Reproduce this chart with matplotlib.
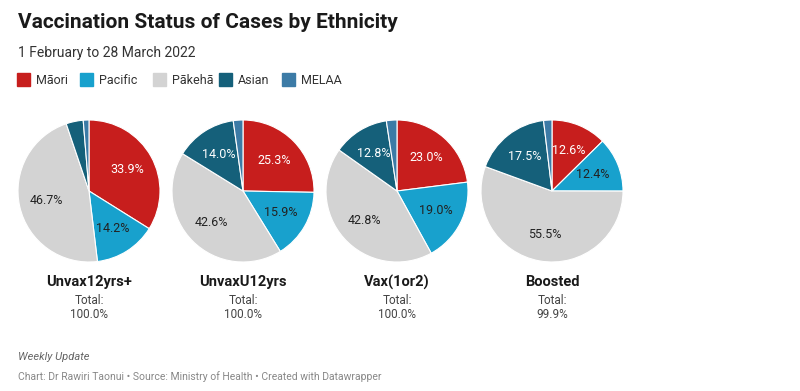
import numpy as np
import matplotlib.pyplot as plt

plt.rcParams['font.family'] = ['Roboto', 'DejaVu Sans']

groups = ['Unvax12yrs+', 'UnvaxU12yrs', 'Vax(1or2)', 'Boosted']
totals = ['100.0%', '100.0%', '100.0%', '99.9%']
ethnicities = ['Māori', 'Pacific', 'Pākehā', 'Asian', 'MELAA']
maori = [33.9, 25.3, 23.0, 12.6]
pacific = [14.2, 15.9, 19.0, 12.4]
pakeha = [46.7, 42.6, 42.8, 55.5]
asian = [3.9, 14.0, 12.8, 17.5]
melaa = [1.3, 2.2, 2.4, 1.9]

colors = ['#c71e1d', '#18a1cd', '#d3d3d3', '#15607a', '#3c7ba6']
label_colors = ['white', '#222222', '#222222', 'white', 'white']

W, H = 800, 391
fig = plt.figure(figsize=(W / 100, H / 100), dpi=100)
fig.patch.set_facecolor('white')

def fx(px):
    return px / W

def fy(py):
    return 1 - py / H

fig.text(fx(18), fy(22), 'Vaccination Status of Cases by Ethnicity', fontsize=15,
         fontweight='bold', color='#1a1a1a', va='center')
fig.text(fx(18), fy(53), '1 February to 28 March 2022', fontsize=10,
         color='#333333', va='center')

# legend
legend_x = [17, 80, 153, 219, 282]
for name, c, lx in zip(ethnicities, colors, legend_x):
    fig.patches.append(plt.Rectangle((fx(lx), fy(86)), fx(13), 13 / H,
                                     transform=fig.transFigure, color=c))
    fig.text(fx(lx + 19), fy(80), name, fontsize=9, color='#333333', va='center')

centers = [89, 243, 397, 552]
r = 71
for i, g in enumerate(groups):
    vals = [maori[i], pacific[i], pakeha[i], asian[i], melaa[i]]
    ax = fig.add_axes([fx(centers[i] - r), fy(191 + r), 2 * r / W, 2 * r / H])
    ax.pie(vals, colors=colors, startangle=90, counterclock=False,
           wedgeprops=dict(edgecolor='white', linewidth=0.8))
    ax.set_xlim(-1, 1)
    ax.set_ylim(-1, 1)
    ax.set_aspect('equal')
    total = sum(vals)
    start = 90
    for v, lc in zip(vals, label_colors):
        mid = start - v / total * 360 / 2
        start -= v / total * 360
        if v >= 10:
            a = np.deg2rad(mid)
            ax.text(0.62 * np.cos(a), 0.62 * np.sin(a), f'{v:.1f}%', ha='center',
                    va='center', fontsize=9, color=lc)
    fig.text(fx(centers[i]), fy(282), g, ha='center', va='center', fontsize=10.5,
             fontweight='bold', color='#1a1a1a')
    fig.text(fx(centers[i]), fy(300), 'Total:', ha='center', va='center',
             fontsize=8.5, color='#444444')
    fig.text(fx(centers[i]), fy(314), totals[i], ha='center', va='center',
             fontsize=8.5, color='#444444')

fig.text(fx(18), fy(357), 'Weekly Update', fontsize=8, style='italic',
         color='#666666', va='center')
fig.text(fx(18), fy(377), 'Chart: Dr Rawiri Taonui • Source: Ministry of Health • Created with Datawrapper',
         fontsize=7.5, color='#888888', va='center')

fig.savefig('out.png', dpi=100, facecolor='white')
